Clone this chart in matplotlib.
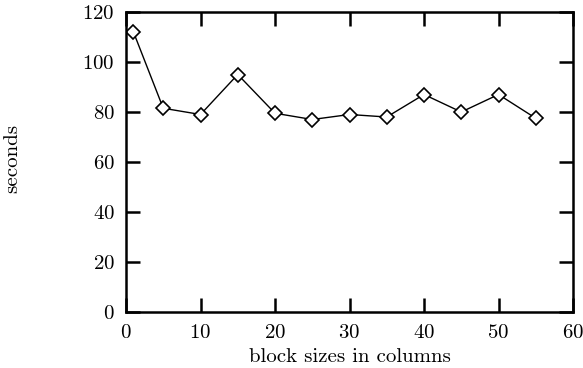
import matplotlib
matplotlib.use("Agg")
import matplotlib.pyplot as plt

# block size (columns) vs run time
block_sizes = [1, 5, 10, 15, 20, 25, 30, 35, 40, 45, 50, 55]
seconds = [112, 81.5, 79, 95, 79.5, 77, 79, 78, 87, 80, 87, 77.5]

x_ticks = [0, 10, 20, 30, 40, 50, 60]
y_ticks = [0, 20, 40, 60, 80, 100, 120]

plt.rcParams["font.family"] = ["cmr10", "DejaVu Serif"]
plt.rcParams["axes.formatter.use_mathtext"] = True

fig = plt.figure(figsize=(5.83, 3.68), dpi=100)
ax = fig.add_axes([126 / 583, 1 - 312 / 368, (573 - 126) / 583, (312 - 12) / 368])

ax.plot(block_sizes, seconds, color="black", linewidth=1.0,
        marker="D", markersize=7, markerfacecolor="white",
        markeredgecolor="black", markeredgewidth=1.2)

ax.set_xlim(0, 60)
ax.set_ylim(0, 120)
ax.set_xticks(x_ticks)
ax.set_yticks(y_ticks)
ax.tick_params(direction="in", length=10, width=1.8, labelsize=15,
               top=True, right=True)
ax.tick_params(axis="x", pad=9)
ax.tick_params(axis="y", pad=8)
for s in ax.spines.values():
    s.set_linewidth(1.8)

ax.set_xlabel("block sizes in columns", fontsize=15, va="center")
ax.xaxis.set_label_coords(0.5, -(357 - 312) / 300)
fig.text(12 / 583, 1 - 158 / 368, "seconds", rotation=90, fontsize=15,
         ha="center", va="center")

fig.savefig("out.png", dpi=100)
